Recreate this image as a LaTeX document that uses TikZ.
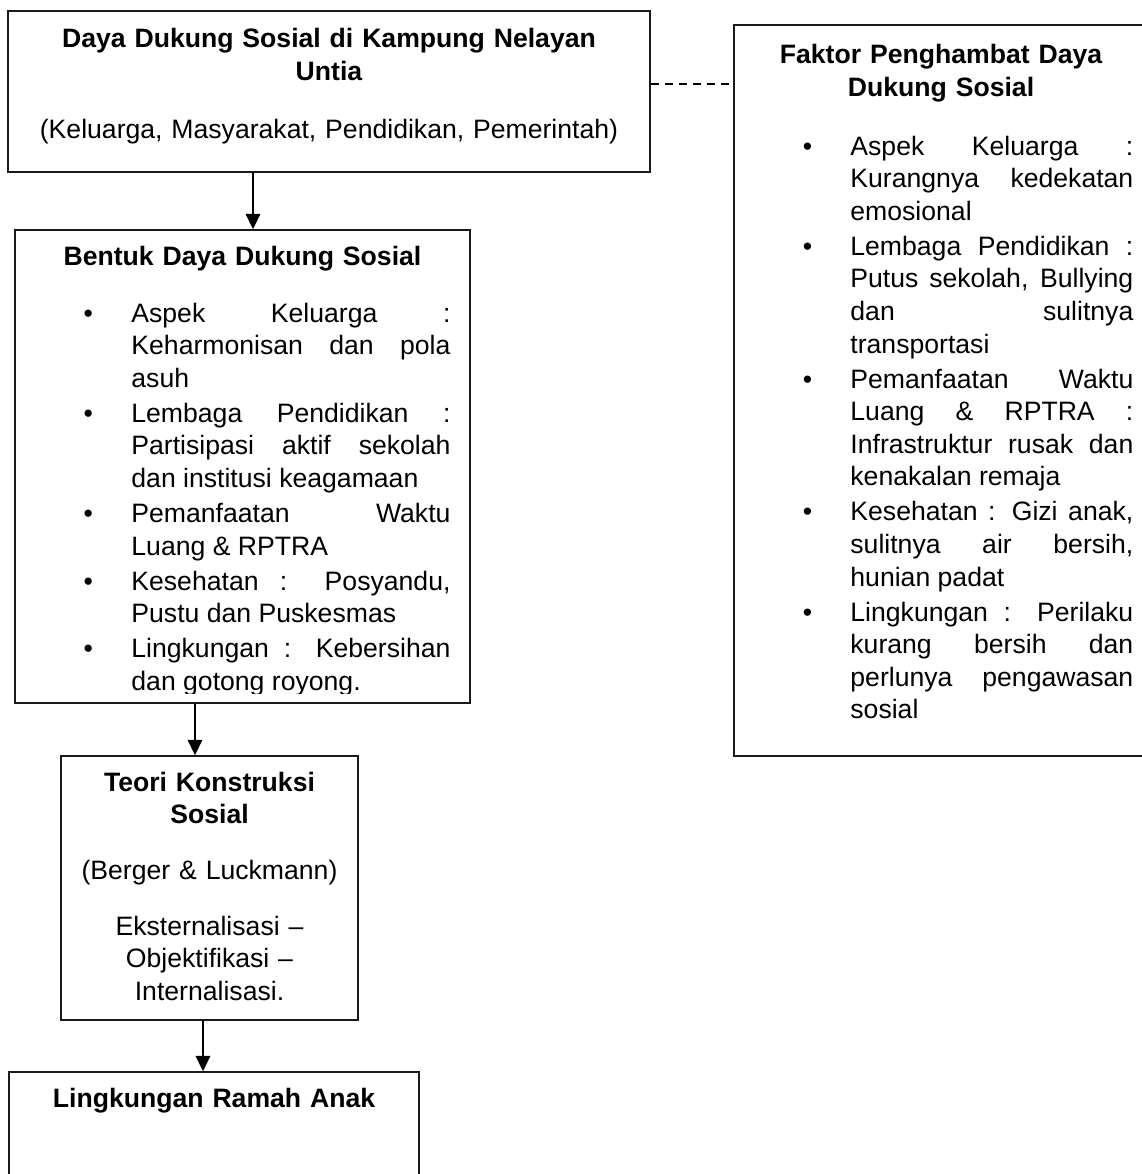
\documentclass[tikz,border=0pt]{standalone}
\usepackage{fontspec}
\setmainfont{Liberation Sans}
\usetikzlibrary{arrows.meta, positioning, fit}
\definecolor{frameline}{HTML}{1A1A1A}

\tolerance=10000
\hyphenpenalty=10000
\exhyphenpenalty=10000

\newcommand{\bodysize}{\fontsize{12}{14.7}\selectfont}
\newcommand{\headsize}{\fontsize{12}{14.7}\selectfont\bfseries}
\newcommand{\listpoint}[1]{\par\hangindent=21.5pt\hangafter=1\noindent\makebox[21.5pt][l]{\textbullet}#1\par}

\tikzset{
  framebox/.style={draw=frameline, line width=0.6pt, inner sep=0pt},
  headtext/.style={font=\headsize, align=center, inner sep=0pt, anchor=base},
  plaintext/.style={font=\bodysize, align=center, inner sep=0pt, anchor=base},
  bullettext/.style={font={\bodysize\parindent=0pt\parskip=1.1pt}, align=justify, inner sep=0pt, anchor=base west},
  flowarrow/.style={draw=black, line width=0.9pt, -{Triangle[length=7pt,width=6.5pt]}},
  linkdash/.style={draw=black, line width=0.6pt, dash pattern=on 3.6pt off 2.7pt}
}

\begin{document}
\begin{tikzpicture}[x=0.451pt, y=-0.451pt]
  % Page frame
  \useasboundingbox (0,0) rectangle (1142,1174);
  \clip (0,0) rectangle (1142,1174);

  % Boxes
  \node[framebox, fit={(8,11) (650,172)}] (dayaBox) {};
  \node[framebox, fit={(15,230) (470,703)}] (bentukBox) {};
  \node[framebox, fit={(61,756) (358,1020)}] (teoriBox) {};
  \node[framebox, fit={(9,1072) (419,1190)}] (ramahBox) {};
  \node[framebox, fit={(734,25) (1150,756)}] (faktorBox) {};

  % Daya dukung sosial
  \node[headtext, text width=290pt] (dayaTitle) at (329,48) {Daya Dukung Sosial di Kampung Nelayan\\Untia};
  \node[plaintext, text width=290pt] (dayaSub) at (329,139) {(Keluarga, Masyarakat, Pendidikan, Pemerintah)};

  % Bentuk daya dukung
  \node[headtext, text width=200pt] (bentukTitle) at (242.5,265) {Bentuk Daya Dukung Sosial};
  \begin{scope}
    \clip (15,230) rectangle (470,693);
    \node[bullettext, text width=165.4pt] (bentukList) at (83.3,287) {%
      \listpoint{Aspek Keluarga :\linebreak Keharmonisan dan pola\linebreak asuh}%
      \listpoint{Lembaga Pendidikan :\linebreak Partisipasi aktif sekolah\linebreak dan institusi keagamaan}%
      \listpoint{Pemanfaatan Waktu\linebreak Luang \& RPTRA}%
      \listpoint{Kesehatan : Posyandu,\linebreak Pustu dan Puskesmas}%
      \listpoint{Lingkungan : Kebersihan\linebreak dan gotong royong.}};
  \end{scope}

  % Teori
  \node[headtext, text width=120pt] (teoriTitle) at (209.5,791) {Teori Konstruksi\\Sosial};
  \node[plaintext, text width=120pt] (teoriRef) at (209.5,879) {(Berger \& Luckmann)};
  \node[plaintext, text width=120pt] (teoriStep) at (209.5,935) {Eksternalisasi –\\Objektifikasi –\\Internalisasi.};

  % Hasil
  \node[headtext, text width=180pt] (ramahTitle) at (214,1107) {Lingkungan Ramah Anak};

  % Faktor penghambat
  \node[headtext, text width=180pt] (faktorTitle) at (941,64) {Faktor Penghambat Daya\\Dukung Sosial};
  \node[bullettext, text width=149.1pt] (faktorList) at (802.3,120) {%
    \listpoint{Aspek Keluarga :\linebreak Kurangnya kedekatan\linebreak emosional}%
    \listpoint{Lembaga Pendidikan :\linebreak Putus sekolah, Bullying\linebreak dan sulitnya\linebreak transportasi}%
    \listpoint{Pemanfaatan Waktu\linebreak Luang \& RPTRA :\linebreak Infrastruktur rusak dan\linebreak kenakalan remaja}%
    \listpoint{Kesehatan : Gizi anak,\linebreak sulitnya air bersih,\linebreak hunian padat}%
    \listpoint{Lingkungan : Perilaku\linebreak kurang bersih dan\linebreak perlunya pengawasan\linebreak sosial}};

  % Connectors
  \draw[flowarrow] (dayaBox.south -| 253,0) -- (bentukBox.north -| 253,0);
  \draw[flowarrow] (bentukBox.south -| 195,0) -- (teoriBox.north -| 195,0);
  \draw[flowarrow] (teoriBox.south -| 203,0) -- (ramahBox.north -| 203,0);
  \draw[linkdash] (dayaBox.east |- 0,84) -- (faktorBox.west |- 0,84);
\end{tikzpicture}
\end{document}
